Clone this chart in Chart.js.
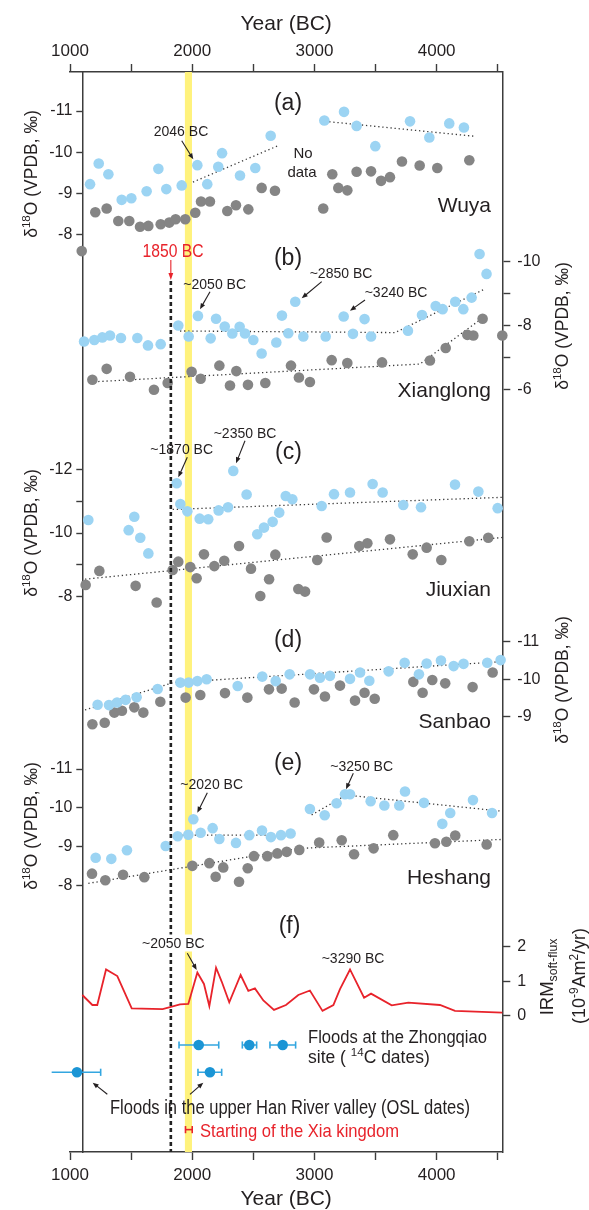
<!DOCTYPE html>
<html>
<head>
<meta charset="utf-8">
<script src="https://cdn.jsdelivr.net/npm/chart.js@4.4.1/dist/chart.umd.min.js"></script>
<style>
  html, body { margin: 0; padding: 0; background: #fff; }
  canvas { display: block; }
</style>
</head>
<body>
<canvas id="fig" width="589" height="1210"></canvas>
<script>
// ---------- data ----------
const yearTicks = [1000, 1500, 2000, 2500, 3000, 3500, 4000, 4500];

// (a) Wuya
const wuyaBlueYear = [1164, 1235, 1314, 1423, 1502, 1627, 1723, 1788, 1914, 2042, 2123, 2213, 2244, 2391, 2516, 2642, 3081, 3242, 3345, 3498, 3782, 3940, 4103, 4223];
const wuyaBlueD18O = [-9.23, -9.73, -9.47, -8.85, -8.89, -9.06, -9.60, -9.11, -9.20, -9.69, -9.23, -9.65, -9.98, -9.44, -9.62, -10.40, -10.77, -10.98, -10.64, -10.15, -10.75, -10.36, -10.70, -10.60];
const wuyaGreyYear = [1096, 1207, 1300, 1395, 1485, 1573, 1641, 1742, 1812, 1864, 1943, 2025, 2072, 2145, 2287, 2358, 2459, 2568, 2677, 3072, 3146, 3195, 3269, 3345, 3463, 3545, 3618, 3716, 3861, 4005, 4267];
const wuyaGreyD18O = [-7.61, -8.55, -8.64, -8.34, -8.34, -8.20, -8.22, -8.26, -8.30, -8.38, -8.38, -8.54, -8.81, -8.81, -8.58, -8.72, -8.62, -9.14, -9.07, -8.64, -9.47, -9.14, -9.08, -9.53, -9.54, -9.31, -9.40, -9.78, -9.68, -9.62, -9.81];
const wuyaTrend1Year = [2006, 2702];
const wuyaTrend1D18O = [-9.28, -10.16];
const wuyaTrend2Year = [3121, 4305];
const wuyaTrend2D18O = [-10.74, -10.39];

// (b) Xianglong
const xlBlueYear = [1115, 1199, 1264, 1327, 1417, 1551, 1638, 1742, 1886, 1971, 2047, 2151, 2195, 2266, 2328, 2388, 2432, 2500, 2568, 2688, 2734, 2786, 2843, 2909, 3092, 3239, 3315, 3410, 3463, 3765, 3880, 3992, 4049, 4152, 4218, 4286, 4351, 4408];
const xlBlueD18O = [-7.51, -7.56, -7.64, -7.70, -7.62, -7.62, -7.39, -7.43, -8.01, -7.67, -8.31, -7.61, -8.22, -7.98, -7.76, -7.97, -7.76, -7.56, -7.14, -7.48, -8.32, -7.77, -8.75, -7.67, -7.67, -8.29, -7.75, -8.21, -7.67, -7.85, -8.34, -8.62, -8.52, -8.75, -8.52, -8.88, -10.24, -9.62];
const xlGreyYear = [1183, 1300, 1491, 1687, 1799, 1995, 2069, 2222, 2309, 2361, 2456, 2598, 2808, 2873, 2963, 3141, 3269, 3553, 3945, 4074, 4251, 4300, 4376, 4537];
const xlGreyD18O = [-6.32, -6.66, -6.41, -6.01, -6.22, -6.57, -6.35, -6.76, -6.14, -6.59, -6.16, -6.22, -6.76, -6.39, -6.25, -6.93, -6.84, -6.86, -6.92, -7.31, -7.72, -7.70, -8.22, -7.70];
const xlBlueTrendYear = [1900, 3659, 4395];
const xlBlueTrendD18O = [-7.84, -7.79, -9.15];
const xlGreyTrendYear = [1164, 3863, 4409];
const xlGreyTrendD18O = [-6.25, -6.81, -8.34];

// (c) Jiuxian
const jxBlueYear = [1150, 1480, 1526, 1575, 1641, 1873, 1903, 1960, 2061, 2131, 2216, 2293, 2336, 2445, 2532, 2587, 2658, 2712, 2765, 2819, 3059, 3160, 3291, 3476, 3558, 3727, 3872, 4150, 4341, 4499];
const jxBlueD18O = [-10.41, -10.09, -10.51, -9.85, -9.36, -11.56, -10.91, -10.68, -10.45, -10.43, -10.71, -10.81, -11.95, -11.21, -9.96, -10.17, -10.35, -10.64, -11.16, -11.06, -10.85, -11.22, -11.27, -11.54, -11.27, -10.88, -10.81, -11.52, -11.30, -10.78];
const jxGreyYear = [1128, 1240, 1537, 1709, 1840, 1886, 1984, 2036, 2096, 2181, 2262, 2383, 2481, 2557, 2629, 2680, 2868, 2923, 3023, 3100, 3367, 3433, 3618, 3804, 3918, 4038, 4267, 4422];
const jxGreyD18O = [-8.37, -8.81, -8.34, -7.82, -8.84, -9.10, -8.93, -8.58, -9.33, -8.96, -9.13, -9.59, -8.88, -8.02, -8.55, -9.32, -8.24, -8.16, -9.15, -9.86, -9.59, -9.68, -9.80, -9.33, -9.54, -9.15, -9.74, -9.85];
const jxBlueTrendYear = [1840, 4537];
const jxBlueTrendD18O = [-10.74, -11.12];
const jxGreyTrendYear = [1123, 4537];
const jxGreyTrendD18O = [-8.55, -9.86];

// (d) Sanbao
const sbBlueYear = [1226, 1319, 1385, 1455, 1545, 1717, 1903, 1971, 2042, 2118, 2372, 2573, 2683, 2797, 2964, 3045, 3127, 3291, 3373, 3449, 3607, 3738, 3855, 3918, 4035, 4139, 4220, 4414, 4523];
const sbBlueD18O = [-9.32, -9.31, -9.38, -9.45, -9.52, -9.74, -9.91, -9.91, -9.95, -10.00, -9.82, -10.07, -9.95, -10.13, -10.13, -10.04, -10.09, -10.01, -10.18, -9.96, -10.21, -10.44, -10.13, -10.42, -10.50, -10.35, -10.41, -10.44, -10.51];
const sbGreyYear = [1183, 1284, 1363, 1425, 1526, 1600, 1739, 1946, 2066, 2268, 2451, 2628, 2732, 2838, 2996, 3086, 3209, 3332, 3410, 3493, 3809, 3885, 3964, 4070, 4294, 4458];
const sbGreyD18O = [-8.80, -8.84, -9.11, -9.16, -9.25, -9.11, -9.40, -9.51, -9.58, -9.63, -9.51, -9.73, -9.75, -9.38, -9.73, -9.54, -9.83, -9.43, -9.64, -9.48, -9.93, -9.64, -9.98, -9.89, -9.79, -10.18];
const sbBlueTrendYear = [1123, 1845, 4537];
const sbBlueTrendD18O = [-9.18, -9.91, -10.47];

// (e) Heshang
const hsBlueYear = [1210, 1338, 1466, 1783, 1881, 1968, 2009, 2069, 2167, 2222, 2358, 2467, 2571, 2644, 2726, 2805, 2963, 3084, 3181, 3250, 3291, 3460, 3572, 3694, 3741, 3896, 4046, 4111, 4297, 4453];
const hsBlueD18O = [-8.72, -8.69, -8.91, -9.02, -9.27, -9.31, -9.71, -9.36, -9.48, -9.20, -9.10, -9.30, -9.42, -9.25, -9.30, -9.34, -9.97, -9.81, -10.12, -10.35, -10.35, -10.17, -10.06, -10.06, -10.42, -10.13, -9.59, -9.87, -10.20, -9.87];
const hsGreyYear = [1180, 1289, 1434, 1608, 2001, 2140, 2192, 2254, 2383, 2454, 2505, 2614, 2696, 2773, 2876, 3039, 3223, 3324, 3484, 3645, 3986, 4079, 4152, 4409];
const hsGreyD18O = [-8.31, -8.14, -8.28, -8.22, -8.51, -8.58, -8.23, -8.47, -8.10, -8.45, -8.76, -8.76, -8.83, -8.87, -8.92, -9.11, -9.17, -8.81, -8.96, -9.30, -9.09, -9.13, -9.29, -9.06];
const hsBlueTrend1Year = [1886, 2855];
const hsBlueTrend1D18O = [-9.30, -9.30];
const hsBlueTrend2Year = [2977, 3260, 4518];
const hsBlueTrend2D18O = [-9.82, -10.33, -9.92];
const hsGreyTrendYear = [1150, 2880, 4537];
const hsGreyTrendD18O = [-8.06, -8.96, -9.19];

// (f) IRM soft-flux
const irmYear = [1101, 1183, 1223, 1295, 1387, 1505, 1758, 1900, 1968, 2042, 2096, 2140, 2195, 2241, 2303, 2396, 2459, 2513, 2582, 2669, 2767, 2868, 2963, 3066, 3155, 3209, 3291, 3406, 3463, 3632, 3768, 4027, 4150, 4537];
const irmFlux = [0.60, 0.31, 0.31, 1.34, 1.15, 0.21, 0.19, 0.33, 0.34, 1.25, 0.92, 0.28, 1.39, 0.99, 0.39, 1.18, 0.72, 0.79, 0.44, 0.17, 0.31, 0.60, 0.73, 0.14, 0.31, 0.77, 1.34, 0.52, 0.64, 0.30, 0.38, 0.31, 0.14, 0.09];

// flood ages
const zqYear = [2053, 2467, 2740];
const zqLow = [1892, 2410, 2636];
const zqHigh = [2217, 2527, 2846];
const oslYear = [1057, 2145];
const oslLow = [850, 2047];
const oslHigh = [1251, 2241];
const xiaStart = [1945, 2000];

const bandYears = [1940, 1998];   // yellow band
const eventYear = 1825;            // dashed line ("1850 BC")

// ---------- layout ----------
const W = 589, H = 1210;
const AREA = { left: 70, right: 502.3, top: 72, bottom: 1152 };
const LEFT_FRAME = 82.3;
const YEAR_MIN = 1000, YEAR_MAX = 4537;
const FONT = '"Liberation Sans", Arial, Helvetica, sans-serif';
const INK = '#231f20';
const FRAME = '#3c3c3c';
const BLUE = '#9cd4f3';
const GREY = '#858585';
const RED = '#e8232b';
const FLOOD = '#1b95d5';
const ROW_ZQ = 1, ROW_OSL = 2, ROW_XIA = 4.1;

const AXES = {
  yA: { side: 'left', reverse: true, a: [-11, 111], b: [-8, 235], ticks: [-11, -10, -9, -8], labels: [-11, -10, -9, -8], width: 70, frame: true },
  yB: { side: 'right', reverse: true, a: [-10, 261.7], b: [-6, 390], ticks: [-10, -9, -8, -7, -6], labels: [-10, -8, -6], width: 86.7, frame: true },
  yC: { side: 'left', reverse: true, a: [-12, 469.3], b: [-8, 596.7], ticks: [-12, -11, -10, -9, -8], labels: [-12, -10, -8] },
  yD: { side: 'right', reverse: true, a: [-11, 641.7], b: [-9, 716.7], ticks: [-11, -10, -9], labels: [-11, -10, -9] },
  yE: { side: 'left', reverse: true, a: [-11, 769], b: [-8, 885.7], ticks: [-11, -10, -9, -8], labels: [-11, -10, -9, -8] },
  yF: { side: 'right', reverse: false, a: [0, 1015.7], b: [2, 946.7], ticks: [0, 1, 2], labels: [0, 1, 2] },
  yRows: { side: 'left', reverse: true, a: [1, 1045], b: [2, 1072.3], ticks: [], labels: [], hidden: true }
};

function range(ax) {
  const [v1, p1] = ax.a, [v2, p2] = ax.b;
  const span = AREA.bottom - AREA.top;
  let k, min;
  if (ax.reverse) {
    k = (p2 - p1) / (v2 - v1);
    min = v1 - (p1 - AREA.top) / k;
  } else {
    k = (p1 - p2) / (v2 - v1);
    min = v1 - (AREA.bottom - p1) / k;
  }
  return { min, max: min + span / k };
}

function yAxis(ax) {
  const r = range(ax);
  const left = ax.side === 'left';
  return {
    type: 'linear',
    position: ax.side,
    display: !ax.hidden,
    min: r.min,
    max: r.max,
    reverse: ax.reverse,
    afterBuildTicks: s => { s.ticks = ax.ticks.map(v => ({ value: v })); },
    afterFit: s => { s.width = ax.width || 0; },
    ticks: {
      autoSkip: false,
      padding: left ? 4 : 7,
      color: INK,
      font: { family: FONT, size: 16 },
      callback: v => ax.labels.includes(v) ? String(v) : ''
    },
    grid: { drawOnChartArea: false, tickLength: left ? 6 : 8, tickWidth: 1.4, tickColor: FRAME, color: FRAME },
    border: { display: !!ax.frame, color: FRAME, width: 1.5 }
  };
}

function xAxis(pos) {
  const top = pos === 'top';
  return {
    type: 'linear',
    position: pos,
    min: YEAR_MIN,
    max: YEAR_MAX,
    afterBuildTicks: s => { s.ticks = yearTicks.map(v => ({ value: v })); },
    afterFit: s => { s.height = top ? AREA.top : H - AREA.bottom; },
    ticks: {
      autoSkip: false,
      maxRotation: 0,
      padding: top ? 2 : 5,
      color: INK,
      font: { family: FONT, size: 17 },
      callback: v => v % 1000 === 0 ? String(v) : ''
    },
    grid: { drawOnChartArea: false, tickLength: 8, tickWidth: 1.4, tickColor: FRAME, color: FRAME },
    border: { display: true, color: FRAME, width: 1.5 },
    title: {
      display: true,
      text: 'Year (BC)',
      color: INK,
      font: { family: FONT, size: 21, lineHeight: 1 },
      padding: top ? { top: 13.5, bottom: 0 } : { top: 0, bottom: 0 }
    }
  };
}

const scales = { x: xAxis('bottom'), xTop: xAxis('top') };
Object.keys(AXES).forEach(id => { scales[id] = yAxis(AXES[id]); });

// ---------- datasets ----------
const pts = (xs, ys) => xs.map((x, i) => ({ x: x, y: ys[i] }));

function dots(xs, ys, axis, color) {
  return {
    type: 'scatter', data: pts(xs, ys), xAxisID: 'x', yAxisID: axis,
    backgroundColor: color, borderWidth: 0, pointRadius: 5.3, pointHoverRadius: 5.3,
    clip: false, order: 1
  };
}

function trend(xs, ys, axis) {
  return {
    type: 'scatter', data: pts(xs, ys), xAxisID: 'x', yAxisID: axis,
    showLine: true, borderColor: '#3a3a3a', borderWidth: 1.3, borderDash: [1.3, 2.8],
    pointRadius: 0, clip: false, order: 2
  };
}

function errorBars(lo, hi, row, color) {
  const data = [];
  lo.forEach((l, i) => {
    data.push({ x: l, y: row }, { x: hi[i], y: row }, { x: hi[i], y: null });
  });
  return {
    type: 'scatter', data: data, xAxisID: 'x', yAxisID: 'yRows',
    showLine: true, spanGaps: false, borderColor: color, borderWidth: 1.6,
    pointStyle: 'line', pointRotation: 90, pointRadius: 3.6,
    pointBorderColor: color, pointBorderWidth: 1.6, clip: false, order: 1
  };
}

const rowOf = (xs, row) => xs.map(() => row);

const datasets = [
  dots(wuyaBlueYear, wuyaBlueD18O, 'yA', BLUE),
  dots(wuyaGreyYear, wuyaGreyD18O, 'yA', GREY),
  trend(wuyaTrend1Year, wuyaTrend1D18O, 'yA'),
  trend(wuyaTrend2Year, wuyaTrend2D18O, 'yA'),

  dots(xlBlueYear, xlBlueD18O, 'yB', BLUE),
  dots(xlGreyYear, xlGreyD18O, 'yB', GREY),
  trend(xlBlueTrendYear, xlBlueTrendD18O, 'yB'),
  trend(xlGreyTrendYear, xlGreyTrendD18O, 'yB'),

  dots(jxBlueYear, jxBlueD18O, 'yC', BLUE),
  dots(jxGreyYear, jxGreyD18O, 'yC', GREY),
  trend(jxBlueTrendYear, jxBlueTrendD18O, 'yC'),
  trend(jxGreyTrendYear, jxGreyTrendD18O, 'yC'),

  dots(sbBlueYear, sbBlueD18O, 'yD', BLUE),
  dots(sbGreyYear, sbGreyD18O, 'yD', GREY),
  trend(sbBlueTrendYear, sbBlueTrendD18O, 'yD'),

  dots(hsBlueYear, hsBlueD18O, 'yE', BLUE),
  dots(hsGreyYear, hsGreyD18O, 'yE', GREY),
  trend(hsBlueTrend1Year, hsBlueTrend1D18O, 'yE'),
  trend(hsBlueTrend2Year, hsBlueTrend2D18O, 'yE'),
  trend(hsGreyTrendYear, hsGreyTrendD18O, 'yE'),

  {
    type: 'scatter', data: pts(irmYear, irmFlux), xAxisID: 'x', yAxisID: 'yF',
    showLine: true, borderColor: RED, borderWidth: 1.8, pointRadius: 0, clip: false, order: 1
  },

  errorBars(zqLow, zqHigh, ROW_ZQ, '#33a6e0'),
  errorBars(oslLow, oslHigh, ROW_OSL, '#33a6e0'),
  errorBars([xiaStart[0]], [xiaStart[1]], ROW_XIA, RED),
  Object.assign(dots(zqYear, rowOf(zqYear, ROW_ZQ), 'yRows', FLOOD), { order: 0 }),
  Object.assign(dots(oslYear, rowOf(oslYear, ROW_OSL), 'yRows', FLOOD), { order: 0 })
];

// ---------- annotation drawing ----------
function text(ctx, t, x, y, o) {
  ctx.save();
  ctx.font = (o.size || 14) + 'px ' + FONT;
  ctx.fillStyle = o.color || INK;
  ctx.textAlign = o.align || 'center';
  ctx.textBaseline = 'alphabetic';
  const base = y + (o.size || 14) * 0.36;
  if (o.bg) {
    const w = ctx.measureText(t).width;
    ctx.fillStyle = '#fff';
    ctx.fillRect(x - w / 2 - 3, y - 8, w + 6, 17);
    ctx.fillStyle = o.color || INK;
  }
  if (o.maxWidth) ctx.fillText(t, x, base, o.maxWidth);
  else ctx.fillText(t, x, base);
  ctx.restore();
}

// parts: [text, kind] with kind '' | 'sup' | 'sub'
function rich(ctx, parts, cx, cy, size, rot, align) {
  ctx.save();
  ctx.translate(cx, cy);
  ctx.rotate(rot || 0);
  ctx.fillStyle = INK;
  ctx.textBaseline = 'alphabetic';
  ctx.textAlign = 'left';
  const small = size * 0.66;
  let w = 0;
  const widths = parts.map(([t, k]) => {
    ctx.font = (k ? small : size) + 'px ' + FONT;
    const m = ctx.measureText(t).width;
    w += m;
    return m;
  });
  let x = align === 'left' ? 0 : -w / 2;
  const base = size * 0.36;
  parts.forEach(([t, k], i) => {
    ctx.font = (k ? small : size) + 'px ' + FONT;
    const dy = k === 'sup' ? -size * 0.4 : k === 'sub' ? size * 0.25 : 0;
    ctx.fillText(t, x, base + dy);
    x += widths[i];
  });
  ctx.restore();
}

function arrow(ctx, x1, y1, x2, y2, color, head) {
  const h = head || 6;
  const a = Math.atan2(y2 - y1, x2 - x1);
  ctx.save();
  ctx.strokeStyle = color || INK;
  ctx.fillStyle = color || INK;
  ctx.lineWidth = 1.1;
  ctx.beginPath();
  ctx.moveTo(x1, y1);
  ctx.lineTo(x2 - Math.cos(a) * h * 0.8, y2 - Math.sin(a) * h * 0.8);
  ctx.stroke();
  ctx.beginPath();
  ctx.moveTo(x2, y2);
  ctx.lineTo(x2 - h * Math.cos(a) + 2.4 * Math.sin(a), y2 - h * Math.sin(a) - 2.4 * Math.cos(a));
  ctx.lineTo(x2 - h * Math.cos(a) - 2.4 * Math.sin(a), y2 - h * Math.sin(a) + 2.4 * Math.cos(a));
  ctx.closePath();
  ctx.fill();
  ctx.restore();
}

const LABELS = [
  ['2046 BC', 181, 131, { size: 14 }],
  ['No', 303, 153, { size: 15 }],
  ['data', 302, 172, { size: 15 }],
  ['~2050 BC', 214.7, 284, { size: 14 }],
  ['~2850 BC', 341, 273.3, { size: 14 }],
  ['~3240 BC', 396, 291.5, { size: 14 }],
  ['~1870 BC', 181.7, 449, { size: 14 }],
  ['~2350 BC', 245, 432.5, { size: 14 }],
  ['~2020 BC', 211.7, 784, { size: 14 }],
  ['~3250 BC', 361.7, 766, { size: 14 }],
  ['~2050 BC', 173.3, 942.5, { size: 14, bg: true }],
  ['~3290 BC', 353, 958, { size: 14 }],
  ['1850 BC', 173, 251, { size: 17.5, color: RED, maxWidth: 61 }],
  ['Floods in the upper Han River valley (OSL dates)', 110, 1106.7, { size: 19.5, align: 'left', maxWidth: 360 }],
  ['Floods at the Zhongqiao', 308, 1036.7, { size: 17.5, align: 'left', maxWidth: 179 }],
  ['Starting of the Xia kingdom', 200, 1130, { size: 18.5, align: 'left', color: RED, maxWidth: 199 }],
  ['Wuya', 491, 204, { size: 21, align: 'right' }],
  ['Xianglong', 491, 389, { size: 21, align: 'right' }],
  ['Jiuxian', 491, 588, { size: 21, align: 'right' }],
  ['Sanbao', 491, 720, { size: 21, align: 'right' }],
  ['Heshang', 491, 876, { size: 21, align: 'right' }],
  ['(a)', 288, 102, { size: 23 }],
  ['(b)', 288, 257, { size: 23 }],
  ['(c)', 288.5, 451, { size: 23 }],
  ['(d)', 288, 639, { size: 23 }],
  ['(e)', 288, 762, { size: 23 }],
  ['(f)', 289.5, 925, { size: 23 }]
];

const ARROWS = [
  [181.7, 140.7, 193.3, 159.3],
  [210, 291.7, 200, 309.3],
  [321.7, 281.7, 301.7, 298.3],
  [365, 300, 350, 310.7],
  [187.3, 457.3, 178.3, 477.3],
  [245, 440.7, 236, 463.3],
  [207.3, 792.7, 197.3, 812.7],
  [353.3, 773.3, 346, 789.3],
  [187.3, 953.3, 196.7, 970],
  [107.3, 1094.3, 92.7, 1082.7],
  [190, 1094.3, 203.3, 1082.7]
];

const D18O = [['δ', ''], ['18', 'sup'], ['O (VPDB, ‰)', '']];
const AXIS_TITLES = [[31, 174], [31, 533], [31, 826], [562, 326], [562, 680]];

const shiftAxes = {
  id: 'shiftAxes',
  afterLayout(chart) {
    Object.keys(AXES).forEach(id => {
      const s = chart.scales[id];
      if (AXES[id].side === 'left') { s.left = 0; s.right = LEFT_FRAME; s.width = LEFT_FRAME; }
      else { s.left = chart.chartArea.right; s.right = W; s.width = W - chart.chartArea.right; }
    });
  }
};

const underlay = {
  id: 'underlay',
  beforeDatasetsDraw(chart) {
    const { ctx, chartArea } = chart;
    const x = chart.scales.x;
    const x0 = x.getPixelForValue(bandYears[0]);
    const x1 = x.getPixelForValue(bandYears[1]);
    ctx.save();
    ctx.fillStyle = '#fff27c';
    ctx.fillRect(x0, chartArea.top, x1 - x0, chartArea.bottom - chartArea.top);
    ctx.restore();
  }
};

const overlay = {
  id: 'overlay',
  afterDatasetsDraw(chart) {
    const { ctx, chartArea } = chart;
    const ex = chart.scales.x.getPixelForValue(eventYear);
    ctx.save();
    ctx.strokeStyle = '#222';
    ctx.lineWidth = 2.6;
    ctx.setLineDash([4, 3]);
    ctx.beginPath();
    ctx.moveTo(ex, 281);
    ctx.lineTo(ex, chartArea.bottom);
    ctx.stroke();
    ctx.restore();
    arrow(ctx, ex, 260, ex, 280, RED, 7);
  },
  afterDraw(chart) {
    const { ctx } = chart;
    ARROWS.forEach(a => arrow(ctx, a[0], a[1], a[2], a[3], INK, 6));
    LABELS.forEach(l => text(ctx, l[0], l[1], l[2], l[3]));
    rich(ctx, [['site ( ', ''], ['14', 'sup'], ['C dates)', '']], 308, 1056.7, 17.5, 0, 'left');
    AXIS_TITLES.forEach(p => rich(ctx, D18O, p[0], p[1], 17.5, -Math.PI / 2));
    rich(ctx, [['IRM', ''], ['soft-flux', 'sub']], 546, 977, 18.5, -Math.PI / 2);
    rich(ctx, [['(10', ''], ['-9', 'sup'], ['Am', ''], ['2', 'sup'], ['/yr)', '']], 579, 976, 18, -Math.PI / 2);
  }
};

Chart.defaults.font.family = FONT;

new Chart(document.getElementById('fig'), {
  type: 'scatter',
  data: { datasets: datasets },
  options: {
    responsive: false,
    animation: false,
    events: [],
    devicePixelRatio: 1,
    layout: { padding: 0 },
    scales: scales,
    plugins: {
      legend: { display: false },
      tooltip: { enabled: false },
      title: { display: false }
    }
  },
  plugins: [shiftAxes, underlay, overlay]
});
</script>
</body>
</html>
